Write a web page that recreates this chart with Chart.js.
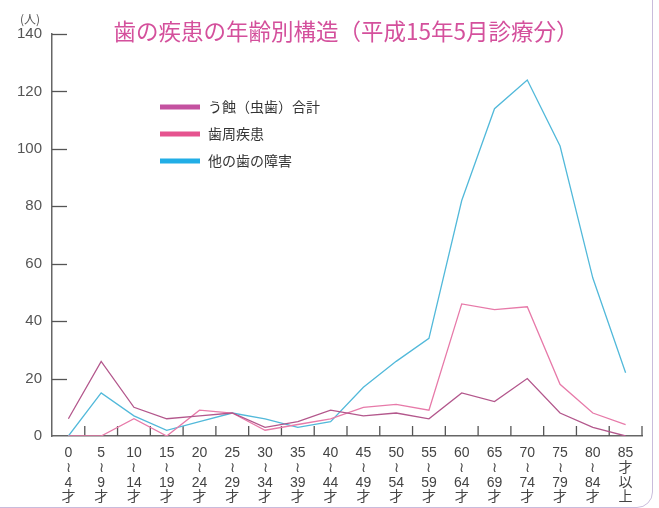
<!DOCTYPE html>
<html>
<head>
<meta charset="utf-8">
<script src="https://cdn.jsdelivr.net/npm/chart.js@4"></script>
<style>
  html, body { margin: 0; padding: 0; background: #ffffff; }
  #wrap { position: relative; width: 659px; height: 508px; overflow: hidden; }
  #frame { position: absolute; left: -30px; top: -20px; width: 683px; height: 528px;
           border: 1.5px solid #c9bcdc; border-radius: 16px; box-sizing: border-box; pointer-events: none; }
  canvas { position: absolute; left: 0; top: 0; }
</style>
</head>
<body>
<div id="wrap">
  <canvas id="c" width="659" height="508"></canvas>
  <div id="frame"></div>
</div>
<script>
// ---- data ----
const categories = [
  ["0","≀","4","才"], ["5","≀","9","才"], ["10","≀","14","才"], ["15","≀","19","才"],
  ["20","≀","24","才"], ["25","≀","29","才"], ["30","≀","34","才"], ["35","≀","39","才"],
  ["40","≀","44","才"], ["45","≀","49","才"], ["50","≀","54","才"], ["55","≀","59","才"],
  ["60","≀","64","才"], ["65","≀","69","才"], ["70","≀","74","才"], ["75","≀","79","才"],
  ["80","≀","84","才"], ["85","才","以","上"]
];
const cariesValues      = [6, 26, 10, 6, 7, 8, 3, 5, 9, 7, 8, 6, 15, 12, 20, 8, 3, 0];
const periodontalValues = [0, 0, 6, 0, 9, 8, 2, 4, 6, 10, 11, 9, 46, 44, 45, 18, 8, 4];
const otherValues       = [0, 15, 7, 2, 5, 8, 6, 3, 5, 17, 26, 34, 82, 114, 124, 101, 55, 22];
const seriesNames = ["う蝕（虫歯）合計", "歯周疾患", "他の歯の障害"];
const yTicks = [0, 20, 40, 60, 80, 100, 120, 140];
const titleText = "歯の疾患の年齢別構造（平成15年5月診療分）";
const unitText = "(人)";

const lineColors   = ["#b3578c", "#e77aa9", "#52b9da"];
const legendColors = ["#c452a0", "#e6538f", "#22aee6"];

const numFont = "'Liberation Sans', 'Noto Sans CJK JP', sans-serif";
const jpFont = "'Noto Sans CJK JP', sans-serif";

const decor = {
  id: 'decor',
  beforeDatasetsDraw(chart) {
    const {ctx, scales: {x, y}} = chart;
    ctx.save();
    ctx.strokeStyle = '#555';
    ctx.lineWidth = 1.3;
    yTicks.forEach(v => {
      if (v === 0) return;
      const py = Math.round(y.getPixelForValue(v)) + 0.5;
      ctx.beginPath(); ctx.moveTo(x.left, py); ctx.lineTo(x.left + 15, py); ctx.stroke();
    });
    const n = categories.length;
    for (let i = 0; i < n; i++) {
      const px = i < n - 1 ? (x.getPixelForValue(i) + x.getPixelForValue(i + 1)) / 2 : x.right;
      ctx.beginPath(); ctx.moveTo(px, y.bottom); ctx.lineTo(px, y.bottom - 10); ctx.stroke();
    }
    ctx.restore();
  },
  afterDraw(chart) {
    const {ctx, chartArea} = chart;
    ctx.save();
    // title
    ctx.fillStyle = '#d4509c';
    ctx.font = "22.5px " + jpFont;
    ctx.textAlign = 'center';
    ctx.textBaseline = 'middle';
    ctx.fillText(titleText, 346, 31);
    // unit
    ctx.fillStyle = '#555';
    ctx.font = "12px " + jpFont;
    ctx.fillText(unitText, 30, 19);
    // legend
    const lx = chartArea.left + 108, ly = 107, gap = 27;
    ctx.textAlign = 'left';
    ctx.font = "14px " + jpFont;
    seriesNames.forEach((name, i) => {
      const yy = ly + i * gap;
      ctx.strokeStyle = legendColors[i];
      ctx.lineWidth = 5;
      ctx.beginPath(); ctx.moveTo(lx, yy); ctx.lineTo(lx + 40, yy); ctx.stroke();
      ctx.fillStyle = '#333';
      ctx.fillText(name, lx + 48, yy);
    });
    ctx.restore();
  }
};

const mk = (label, data, color) => ({
  label, data, borderColor: color, backgroundColor: color,
  borderWidth: 1.3, pointRadius: 0, tension: 0, fill: false
});

new Chart(document.getElementById('c'), {
  type: 'line',
  data: {
    labels: categories,
    datasets: [
      mk(seriesNames[0], cariesValues, lineColors[0]),
      mk(seriesNames[1], periodontalValues, lineColors[1]),
      mk(seriesNames[2], otherValues, lineColors[2])
    ]
  },
  options: {
    responsive: false,
    animation: false,
    devicePixelRatio: 1,
    layout: { padding: { top: 34, right: 17, left: 0, bottom: 0 } },
    plugins: { legend: { display: false }, title: { display: false }, tooltip: { enabled: false } },
    scales: {
      x: {
        offset: true,
        grid: { display: false, drawTicks: false },
        border: { display: true, color: '#666', width: 1.5 },
        ticks: { color: '#444', padding: 10, maxRotation: 0, autoSkip: false,
                 font: { family: numFont, size: 14, lineHeight: 1.05 } },
        afterFit(s) { s.height = 72; }
      },
      y: {
        min: 0, max: 140,
        grid: { display: false, drawTicks: false },
        border: { display: true, color: '#666', width: 1.5 },
        afterBuildTicks(s) { s.ticks = yTicks.map(v => ({ value: v })); },
        ticks: { color: '#555', padding: 10, font: { family: numFont, size: 15 } },
        afterFit(s) { s.width = 52; }
      }
    }
  },
  plugins: [decor]
});
</script>
</body>
</html>
